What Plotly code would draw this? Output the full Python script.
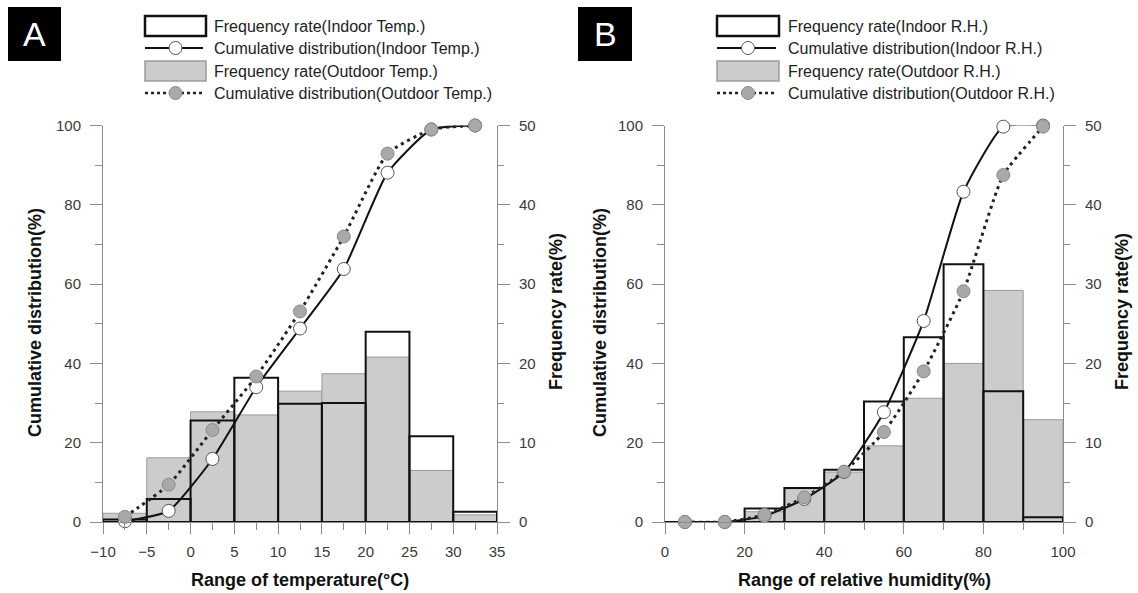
import plotly.graph_objects as go

W, H = 1138, 593

# ---------------- data ----------------
temp_centers = [-7.5, -2.5, 2.5, 7.5, 12.5, 17.5, 22.5, 27.5, 32.5]
temp_freq_indoor = [0.3, 2.9, 12.8, 18.2, 14.9, 15.0, 24.0, 10.8, 1.3]
temp_freq_outdoor = [1.1, 8.1, 13.9, 13.5, 16.5, 18.7, 20.8, 6.5, 0.9]
temp_cum_indoor = [0.2, 2.8, 15.9, 34.0, 48.8, 63.8, 88.1, 99.0, 100.0]
temp_cum_outdoor = [1.3, 9.4, 23.2, 36.7, 53.1, 72.0, 92.9, 99.0, 100.0]

rh_centers = [5, 15, 25, 35, 45, 55, 65, 75, 85, 95]
rh_freq_indoor = [0, 0, 1.7, 4.3, 6.6, 15.2, 23.3, 32.5, 16.5, 0.6]
rh_freq_outdoor = [0, 0, 1.3, 4.2, 6.3, 9.6, 15.6, 20.0, 29.2, 12.9]
rh_cum_indoor = [0, 0, 1.5, 5.8, 12.6, 27.7, 50.7, 83.3, 99.7, 100.0]
rh_cum_outdoor = [0, 0, 1.8, 6.2, 12.7, 22.7, 38.0, 58.2, 87.5, 99.7]

legend_A = ["Frequency rate(Indoor Temp.)", "Cumulative distribution(Indoor Temp.)",
            "Frequency rate(Outdoor Temp.)", "Cumulative distribution(Outdoor Temp.)"]
legend_B = ["Frequency rate(Indoor R.H.)", "Cumulative distribution(Indoor R.H.)",
            "Frequency rate(Outdoor R.H.)", "Cumulative distribution(Outdoor R.H.)"]

FONT = "Liberation Sans, Arial, sans-serif"
AX = "#8c8c8c"
GRAY_FILL = "#cccccc"
GRAY_EDGE = "#9c9c9c"


def px(x):
    return x / W


def py(y):
    return 1 - y / H


fig = go.Figure()


def add_panel(centers, width, f_in, f_out, c_in, c_out, xa, yf, yc):
    fig.add_trace(go.Bar(x=centers, y=f_out, width=width, xaxis=xa, yaxis=yf,
                         marker=dict(color=GRAY_FILL, line=dict(color=GRAY_EDGE, width=1)),
                         showlegend=False))
    fig.add_trace(go.Bar(x=centers, y=f_in, width=width, xaxis=xa, yaxis=yf,
                         marker=dict(color="rgba(0,0,0,0)", line=dict(color="#111111", width=2)),
                         showlegend=False))
    fig.add_trace(go.Scatter(x=centers, y=c_in, xaxis=xa, yaxis=yc, mode="lines+markers",
                             line=dict(color="#111111", width=2, shape="spline", smoothing=0.5),
                             marker=dict(size=13, color="white", line=dict(color="#555555", width=1)),
                             cliponaxis=False, showlegend=False))
    fig.add_trace(go.Scatter(x=centers, y=c_out, xaxis=xa, yaxis=yc, mode="lines+markers",
                             line=dict(color="#222222", width=3, dash="3px,4px", shape="spline", smoothing=0.5),
                             marker=dict(size=13, color="#a9a9a9", line=dict(color="#8a8a8a", width=1)),
                             cliponaxis=False, showlegend=False))


add_panel(temp_centers, 5, temp_freq_indoor, temp_freq_outdoor, temp_cum_indoor, temp_cum_outdoor,
          "x", "y", "y2")
add_panel(rh_centers, 10, rh_freq_indoor, rh_freq_outdoor, rh_cum_indoor, rh_cum_outdoor,
          "x2", "y3", "y4")

ydom = [py(522), py(125.5)]
tickfont = dict(family=FONT, size=15, color="#3a3a3a")


def xaxis(dom, rng, dtick, minor, anchor):
    return dict(domain=dom, range=rng, dtick=dtick, tick0=0, anchor=anchor, automargin=False,
                showline=True, linecolor=AX, linewidth=1, showgrid=False, zeroline=False,
                ticks="outside", ticklen=11, tickcolor=AX, tickwidth=1, tickfont=tickfont,
                ticklabelstandoff=5,
                minor=dict(dtick=minor, tick0=0, ticks="outside", ticklen=7, tickcolor=AX, tickwidth=1))


def yfreq(anchor):
    return dict(domain=ydom, range=[0, 50], dtick=10, anchor=anchor, side="right", automargin=False,
                showline=True, linecolor=AX, linewidth=1, showgrid=False, zeroline=False,
                ticks="outside", ticklen=12, tickcolor=AX, tickwidth=1, tickfont=tickfont,
                ticklabelstandoff=6,
                minor=dict(dtick=5, tick0=0, ticks="outside", ticklen=6, tickcolor=AX, tickwidth=1))


def ycum(anchor, over):
    return dict(domain=ydom, range=[0, 100], dtick=20, anchor=anchor, side="left", overlaying=over,
                automargin=False,
                showline=True, linecolor=AX, linewidth=1, showgrid=False, zeroline=False,
                ticks="outside", ticklen=12, tickcolor=AX, tickwidth=1, tickfont=tickfont,
                ticklabelstandoff=6,
                minor=dict(dtick=10, tick0=0, ticks="outside", ticklen=7, tickcolor=AX, tickwidth=1))


fig.update_layout(
    width=W, height=H, autosize=False,
    margin=dict(l=0, r=0, t=0, b=0, pad=0, autoexpand=False),
    paper_bgcolor="white", plot_bgcolor="rgba(0,0,0,0)",
    barmode="overlay", bargap=0,
    showlegend=False,
    font=dict(family=FONT, size=15, color="#222222"),
    xaxis=xaxis([px(103), px(497)], [-10, 35], 5, 2.5, "y"),
    yaxis=yfreq("x"),
    yaxis2=ycum("x", "y"),
    xaxis2=xaxis([px(665), px(1063)], [0, 100], 20, 10, "y3"),
    yaxis3=yfreq("x2"),
    yaxis4=ycum("x2", "y3"),
)

shapes = []
annotations = []

title_font = dict(family=FONT, size=18, color="#111111")


def title(text, x, y, angle=0):
    annotations.append(dict(text="<b>%s</b>" % text, x=px(x), y=py(y), xref="paper", yref="paper",
                            xanchor="center", yanchor="middle", showarrow=False, textangle=angle,
                            font=title_font))


title("Range of temperature(°C)", 300, 580)
title("Cumulative distribution(%)", 35, 323, -90)
title("Frequency rate(%)", 556, 312, -90)
title("Range of relative humidity(%)", 864, 580)
title("Cumulative distribution(%)", 600, 323, -90)
title("Frequency rate(%)", 1122, 312, -90)


def panel_label(letter, x0, x1, y0, y1):
    shapes.append(dict(type="rect", xref="paper", yref="paper", x0=px(x0), x1=px(x1),
                       y0=py(y1), y1=py(y0), fillcolor="black", line=dict(width=0)))
    annotations.append(dict(text=letter, x=px((x0 + x1) / 2), y=py((y0 + y1) / 2), xref="paper",
                            yref="paper", xanchor="center", yanchor="middle", showarrow=False,
                            font=dict(family=FONT, size=34, color="white")))


panel_label("A", 8, 61, 7, 61)
panel_label("B", 578, 632, 7, 61)


def legend(labels, sx0, sx1, tx, rows):
    r1, r2, r3, r4 = rows
    shapes.append(dict(type="rect", xref="paper", yref="paper", x0=px(sx0), x1=px(sx1),
                       y0=py(r1 + 10), y1=py(r1 - 10), fillcolor="white",
                       line=dict(color="#111111", width=2.5)))
    shapes.append(dict(type="line", xref="paper", yref="paper", x0=px(sx0), x1=px(sx1 - 3),
                       y0=py(r2), y1=py(r2), line=dict(color="#111111", width=2)))
    mx = (sx0 + sx1) / 2
    shapes.append(dict(type="circle", xref="paper", yref="paper", x0=px(mx - 6.5), x1=px(mx + 6.5),
                       y0=py(r2 + 6.5), y1=py(r2 - 6.5), fillcolor="white",
                       line=dict(color="#555555", width=1)))
    shapes.append(dict(type="rect", xref="paper", yref="paper", x0=px(sx0), x1=px(sx1),
                       y0=py(r3 + 10), y1=py(r3 - 10), fillcolor=GRAY_FILL,
                       line=dict(color=GRAY_EDGE, width=1.5)))
    shapes.append(dict(type="line", xref="paper", yref="paper", x0=px(sx0), x1=px(sx1 - 3),
                       y0=py(r4), y1=py(r4), line=dict(color="#222222", width=2.5, dash="3px,3px")))
    shapes.append(dict(type="circle", xref="paper", yref="paper", x0=px(mx - 6.5), x1=px(mx + 6.5),
                       y0=py(r4 + 6.5), y1=py(r4 - 6.5), fillcolor="#a9a9a9",
                       line=dict(color="#8a8a8a", width=1)))
    for lab, r in zip(labels, rows):
        annotations.append(dict(text=lab, x=px(tx), y=py(r), xref="paper", yref="paper",
                                xanchor="left", yanchor="middle", showarrow=False,
                                font=dict(family=FONT, size=16, color="#222222")))


legend(legend_A, 145, 206, 212, [26, 48, 71, 93])
legend(legend_B, 717, 779, 786, [26, 48, 71, 93])

fig.update_layout(shapes=shapes, annotations=annotations)

fig.write_html("out.html", config={"displayModeBar": False, "staticPlot": True},
               post_script="document.body.style.margin='0';document.body.style.overflow='hidden';")
